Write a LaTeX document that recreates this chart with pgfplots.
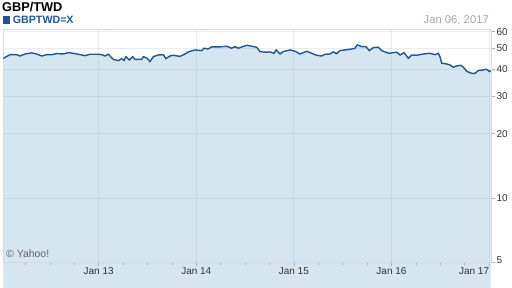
\documentclass[border=0pt]{standalone}
\usepackage{fontspec}
\setmainfont{Liberation Sans}
\usepackage{pgfplots}
\pgfplotsset{compat=1.18}
\usepackage{pgfplotstable}
\definecolor{fillc}{RGB}{214,230,240}
\definecolor{linec}{RGB}{30,86,145}
\definecolor{gridc}{RGB}{110,135,165}
\pgfplotstableread{
x y
2012.023 45.0
2012.092 46.8
2012.160 46.8
2012.194 46.15
2012.245 47.15
2012.314 47.7
2012.365 47.15
2012.417 46.15
2012.468 46.8
2012.519 46.8
2012.570 47.35
2012.638 47.15
2012.689 47.85
2012.740 47.5
2012.792 47.0
2012.860 46.3
2012.911 47.0
2012.996 47.0
2013.031 46.8
2013.065 46.15
2013.099 47.0
2013.150 44.5
2013.201 43.9
2013.236 44.85
2013.260 43.9
2013.280 45.8
2013.314 44.2
2013.349 45.8
2013.372 44.5
2013.441 44.5
2013.457 45.8
2013.492 45.2
2013.526 43.45
2013.560 45.8
2013.611 46.65
2013.662 46.8
2013.690 44.85
2013.731 46.15
2013.765 46.5
2013.834 45.95
2013.885 47.15
2013.919 48.2
2013.987 49.25
2014.056 48.9
2014.079 50.15
2014.123 49.8
2014.158 50.9
2014.243 50.9
2014.312 51.25
2014.363 50.15
2014.397 51.05
2014.431 50.15
2014.517 51.8
2014.585 51.05
2014.619 50.7
2014.653 48.4
2014.704 48.05
2014.756 48.2
2014.797 47.5
2014.817 49.25
2014.858 47.15
2014.892 48.4
2014.961 49.25
2015.012 48.55
2015.063 47.15
2015.132 48.55
2015.183 47.5
2015.234 46.5
2015.285 46.15
2015.319 47.0
2015.370 47.15
2015.404 48.2
2015.439 47.35
2015.473 48.9
2015.524 49.25
2015.575 49.6
2015.627 50.15
2015.650 52.0
2015.695 51.05
2015.739 51.05
2015.773 48.9
2015.814 50.5
2015.865 50.7
2015.900 48.9
2015.951 47.85
2015.985 47.5
2016.019 47.85
2016.054 48.05
2016.088 46.65
2016.129 47.85
2016.173 45.0
2016.207 46.65
2016.259 46.5
2016.326 47.15
2016.395 47.5
2016.446 46.8
2016.480 47.5
2016.497 45.8
2016.515 42.7
2016.566 42.35
2016.600 41.9
2016.634 40.9
2016.669 41.45
2016.710 41.75
2016.737 40.9
2016.771 39.15
2016.822 38.3
2016.856 38.3
2016.890 39.45
2016.941 39.7
2016.976 40.0
2017.003 39.0
2017.017 39.45
}\datatable
\begin{document}
\begin{tikzpicture}
\begin{axis}[
  at={(0,0)}, anchor=south west, scale only axis,
  width=488bp, height=233.2bp,
  ymode=log, ymin=5, ymax=61.5,
  xmin=2012.02, xmax=2017.02,
  set layers,
  axis line style={black!15},
  xtick={2013,2014,2015,2016,2017},
  xticklabels={Jan 13,Jan 14,Jan 15,Jan 16,\makebox[0pt][r]{Jan 17}},
  minor xtick={2012.25,2012.5,2012.75,2013.25,2013.5,2013.75,2014.25,2014.5,2014.75,2015.25,2015.5,2015.75,2016.25,2016.5,2016.75},
  ytick={5,10,20,30,40,50,60},
  yticklabels={\raisebox{4bp}{5},10,20,30,40,50,60},
  xtick pos=bottom, ytick pos=right, yticklabel pos=right,
  tick align=outside,
  major tick length=4bp, minor tick length=3bp,
  tick style={black!30, line width=0.6bp},
  xmajorgrids, ymajorgrids,
  major grid style={draw=gridc, draw opacity=0.15, line width=0.8bp},
  ticklabel style={font=\fontsize{10}{12}\selectfont, text=black!80},
  xticklabel style={inner sep=1bp},
  yticklabel style={inner sep=1.5bp},
]
\addplot[draw=none, fill=fillc, on layer=axis background] table[x=x,y=y] {\datatable} \closedcycle;
\addplot[linec, line width=1.4bp, mark=none] table[x=x,y=y] {\datatable};
\end{axis}
\node[anchor=base west, inner sep=0pt, font=\bfseries\fontsize{12.8}{15}\selectfont] at (-1bp,250.8bp) {GBP/TWD};
\fill[linec] (-0.3bp,238.5bp) rectangle (7bp,246.3bp);
\node[anchor=base west, inner sep=0pt, text=linec, font=\bfseries\fontsize{10.7}{12}\selectfont] at (9.7bp,238.5bp) {GBPTWD=X};
\node[anchor=base east, inner sep=0pt, text=black!35, font=\fontsize{11.3}{13}\selectfont] at (486bp,238.5bp) {Jan 06, 2017};
\node[anchor=base west, inner sep=0pt, text=black!60, font=\fontsize{10.5}{12}\selectfont] at (3bp,4.8bp) {© Yahoo!};
\pgfresetboundingbox
\path[use as bounding box] (-3bp,-25.5bp) rectangle (509bp,262.5bp);
\end{tikzpicture}
\end{document}
